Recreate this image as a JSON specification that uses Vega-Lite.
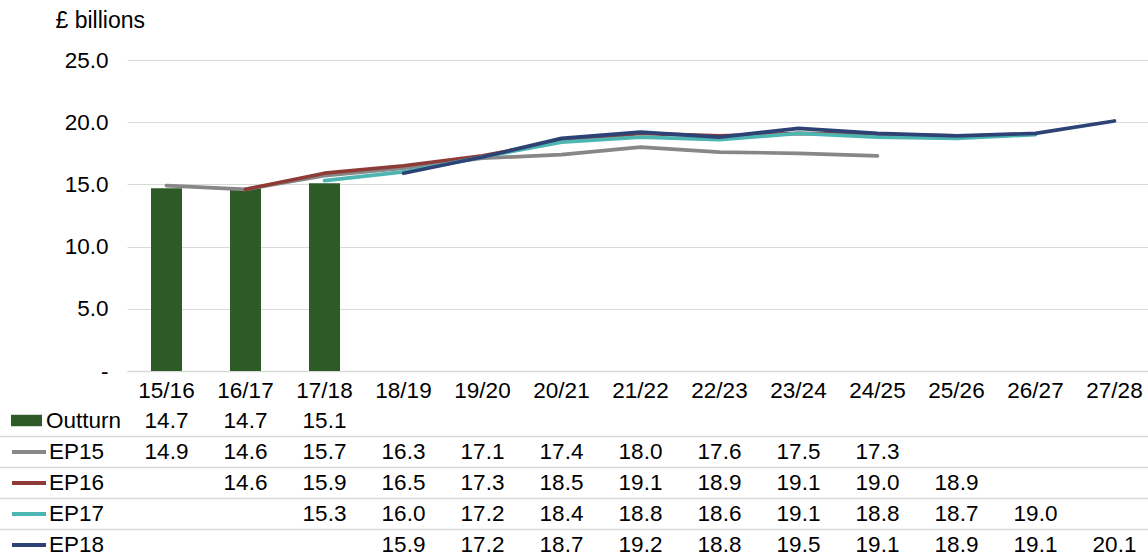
{
  "$schema": "https://vega.github.io/schema/vega-lite/v6.json",
  "width": 1148,
  "height": 558,
  "autosize": {"type": "none"},
  "padding": 0,
  "background": "white",
  "config": {
    "view": {"stroke": null},
    "font": "Liberation Sans",
    "text": {"font": "Liberation Sans"},
    "legend": {"padding": 0, "labelFont": "Liberation Sans", "labelFontSize": 22.5, "labelColor": "#000000", "title": null}
  },
  "data": {
    "values": [
      {"year": "15/16", "series": "Outturn", "value": 14.7},
      {"year": "16/17", "series": "Outturn", "value": 14.7},
      {"year": "17/18", "series": "Outturn", "value": 15.1},
      {"year": "15/16", "series": "EP15", "value": 14.9},
      {"year": "16/17", "series": "EP15", "value": 14.6},
      {"year": "17/18", "series": "EP15", "value": 15.7},
      {"year": "18/19", "series": "EP15", "value": 16.3},
      {"year": "19/20", "series": "EP15", "value": 17.1},
      {"year": "20/21", "series": "EP15", "value": 17.4},
      {"year": "21/22", "series": "EP15", "value": 18.0},
      {"year": "22/23", "series": "EP15", "value": 17.6},
      {"year": "23/24", "series": "EP15", "value": 17.5},
      {"year": "24/25", "series": "EP15", "value": 17.3},
      {"year": "16/17", "series": "EP16", "value": 14.6},
      {"year": "17/18", "series": "EP16", "value": 15.9},
      {"year": "18/19", "series": "EP16", "value": 16.5},
      {"year": "19/20", "series": "EP16", "value": 17.3},
      {"year": "20/21", "series": "EP16", "value": 18.5},
      {"year": "21/22", "series": "EP16", "value": 19.1},
      {"year": "22/23", "series": "EP16", "value": 18.9},
      {"year": "23/24", "series": "EP16", "value": 19.1},
      {"year": "24/25", "series": "EP16", "value": 19.0},
      {"year": "25/26", "series": "EP16", "value": 18.9},
      {"year": "17/18", "series": "EP17", "value": 15.3},
      {"year": "18/19", "series": "EP17", "value": 16.0},
      {"year": "19/20", "series": "EP17", "value": 17.2},
      {"year": "20/21", "series": "EP17", "value": 18.4},
      {"year": "21/22", "series": "EP17", "value": 18.8},
      {"year": "22/23", "series": "EP17", "value": 18.6},
      {"year": "23/24", "series": "EP17", "value": 19.1},
      {"year": "24/25", "series": "EP17", "value": 18.8},
      {"year": "25/26", "series": "EP17", "value": 18.7},
      {"year": "26/27", "series": "EP17", "value": 19.0},
      {"year": "18/19", "series": "EP18", "value": 15.9},
      {"year": "19/20", "series": "EP18", "value": 17.2},
      {"year": "20/21", "series": "EP18", "value": 18.7},
      {"year": "21/22", "series": "EP18", "value": 19.2},
      {"year": "22/23", "series": "EP18", "value": 18.8},
      {"year": "23/24", "series": "EP18", "value": 19.5},
      {"year": "24/25", "series": "EP18", "value": 19.1},
      {"year": "25/26", "series": "EP18", "value": 18.9},
      {"year": "26/27", "series": "EP18", "value": 19.1},
      {"year": "27/28", "series": "EP18", "value": 20.1}
    ]
  },
  "layer": [
    {
      "layer": [
        {
          "transform": [{"filter": "datum.series === 'Outturn'"}],
          "mark": {"type": "bar", "size": 31},
          "encoding": {
            "x": {
              "field": "year", "type": "nominal",
              "scale": {"domain": ["15/16","16/17","17/18","18/19","19/20","20/21","21/22","22/23","23/24","24/25","25/26","26/27","27/28"], "range": [127, 1154], "paddingInner": 0, "paddingOuter": 0},
              "axis": {"title": null, "orient": "bottom", "offset": -187, "ticks": false, "grid": false, "domainColor": "#d9d9d9", "domainWidth": 1.5, "labelPadding": 8, "labelAngle": 0, "labelFont": "Liberation Sans", "labelFontSize": 22.5, "labelColor": "#000000"}
            },
            "y": {
              "field": "value", "type": "quantitative",
              "scale": {"domain": [0, 25], "range": [371, 60], "nice": false},
              "axis": {
                "title": "£ billions", "titleAngle": 0, "titleX": -72, "titleY": 20, "titleAlign": "left", "titleBaseline": "middle",
                "titleFont": "Liberation Sans", "titleFontSize": 23, "titleFontWeight": "normal", "titleColor": "#000000",
                "offset": -127, "values": [0, 5, 10, 15, 20, 25],
                "labelExpr": "datum.value === 0 ? '-' : format(datum.value, '.1f')",
                "ticks": false, "domain": false, "labelPadding": 19, "labelFont": "Liberation Sans", "labelFontSize": 22.5, "labelColor": "#000000",
                "grid": true, "gridColor": "#d9d9d9", "gridWidth": 1
              }
            },
            "fill": {
              "field": "series", "type": "nominal",
              "scale": {"domain": ["Outturn"], "range": ["#2d5a27"]},
              "legend": {"orient": "none", "legendX": 11, "legendY": 405, "symbolType": "M-1,-0.37H1V0.37H-1Z", "symbolSize": 961, "symbolStrokeWidth": 0, "labelOffset": 4}
            }
          }
        },
        {
          "transform": [{"filter": "datum.series !== 'Outturn'"}],
          "mark": {"type": "line", "strokeWidth": 3.7, "strokeCap": "round", "strokeJoin": "round"},
          "encoding": {
            "x": {"field": "year", "type": "nominal", "bandPosition": 0.5},
            "y": {"field": "value", "type": "quantitative"},
            "stroke": {
              "field": "series", "type": "nominal",
              "scale": {"domain": ["EP15", "EP16", "EP17", "EP18"], "range": ["#878787", "#8e3b38", "#4db6b3", "#2d4375"]},
              "legend": {"orient": "none", "legendX": 10, "legendY": 433, "symbolType": "stroke", "symbolSize": 1156, "symbolStrokeWidth": 4, "labelOffset": 1, "rowPadding": 0}
            }
          }
        }
      ]
    },
    {
      "layer": [
        {
          "transform": [
            {"aggregate": [{"op": "count", "as": "n"}], "groupby": ["series"]},
            {"filter": "datum.series !== 'Outturn'"}
          ],
          "mark": {"type": "rule", "color": "#d9d9d9", "strokeWidth": 1.5},
          "encoding": {
            "y": {
              "field": "series", "type": "nominal", "bandPosition": 0,
              "scale": {"type": "band", "domain": ["Outturn", "EP15", "EP16", "EP17", "EP18"], "range": [405.5, 560.5], "paddingInner": 0, "paddingOuter": 0},
              "axis": null
            }
          }
        },
        {
          "mark": {"type": "text", "fontSize": 22.5, "color": "#000000", "align": "center", "baseline": "middle"},
          "encoding": {
            "x": {"field": "year", "type": "nominal", "bandPosition": 0.5},
            "y": {
              "field": "series", "type": "nominal", "bandPosition": 0.5,
              "scale": {"type": "band", "domain": ["Outturn", "EP15", "EP16", "EP17", "EP18"], "range": [405.5, 560.5], "paddingInner": 0, "paddingOuter": 0},
              "axis": null
            },
            "text": {"field": "value", "type": "quantitative", "format": ".1f"}
          }
        }
      ]
    }
  ],
  "resolve": {"scale": {"y": "independent"}}
}
